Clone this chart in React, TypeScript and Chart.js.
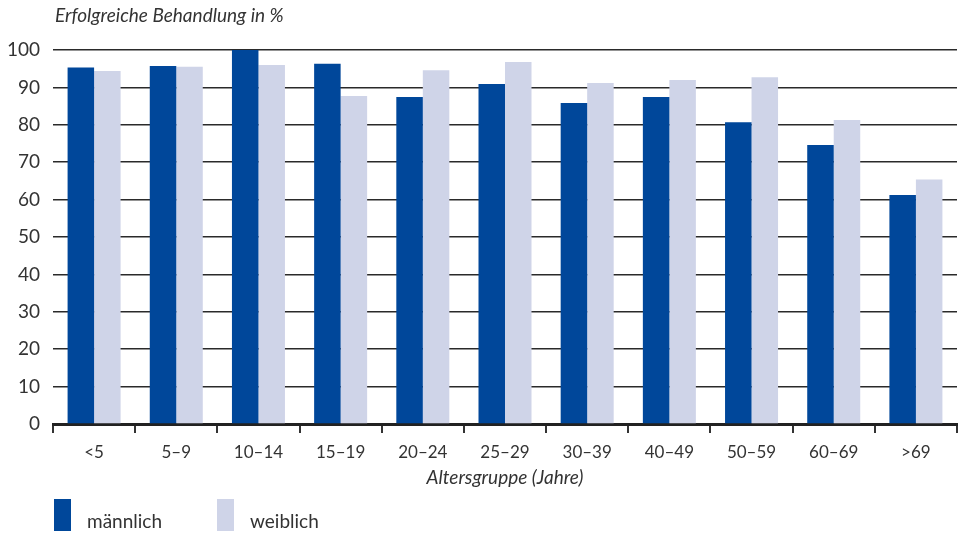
import React, { useEffect, useRef } from "react";
import { Chart, registerables } from "chart.js";

Chart.register(...registerables);

const categories = ["<5", "5–9", "10–14", "15–19", "20–24", "25–29", "30–39", "40–49", "50–59", "60–69", ">69"];
const maleValues = [95.3, 95.7, 100, 96.3, 87.4, 90.9, 85.8, 87.4, 80.7, 74.6, 61.2];
const femaleValues = [94.4, 95.5, 96.0, 87.7, 94.6, 96.8, 91.2, 92.0, 92.7, 81.3, 65.4];
const seriesLabels = ["männlich", "weiblich"];
const yTicks = [0, 10, 20, 30, 40, 50, 60, 70, 80, 90, 100];
const chartTitle = "Erfolgreiche Behandlung in %";
const xTitle = "Altersgruppe (Jahre)";

const MALE = "#00479A";
const FEMALE = "#CFD4E8";
const TEXT = "#333333";
const FONT = "Lato, 'Open Sans', sans-serif";

const decorPlugin = {
  id: "decor",
  afterDraw(chart: any) {
    const { ctx, chartArea } = chart;
    ctx.save();
    ctx.fillStyle = TEXT;
    ctx.textBaseline = "middle";
    ctx.font = `italic 19px ${FONT}`;
    ctx.textAlign = "left";
    ctx.fillText(chartTitle, chartArea.left + 2, 16);
    ctx.textAlign = "center";
    ctx.fillText(xTitle, (chartArea.left + chartArea.right) / 2, 478);
    // legend
    const items = chart.data.datasets.map((d: any) => ({ label: d.label, color: d.backgroundColor }));
    const xs = [54, 217];
    ctx.font = `19px ${FONT}`;
    ctx.textAlign = "left";
    items.forEach((it: any, i: number) => {
      ctx.fillStyle = it.color;
      ctx.fillRect(xs[i], 499, 17, 32);
      ctx.fillStyle = TEXT;
      ctx.fillText(it.label, xs[i] + 33, 522);
    });
    ctx.restore();
  },
};

export default function App() {
  const ref = useRef<HTMLCanvasElement>(null);
  useEffect(() => {
    if (!ref.current) return;
    const chart = new Chart(ref.current, {
      type: "bar",
      data: {
        labels: categories,
        datasets: [
          { label: seriesLabels[0], data: maleValues, backgroundColor: MALE, borderWidth: 0 },
          { label: seriesLabels[1], data: femaleValues, backgroundColor: FEMALE, borderWidth: 0 },
        ],
      },
      options: {
        responsive: false,
        animation: false,
        layout: { padding: { top: 50, right: 1, left: 0, bottom: 0 } },
        datasets: { bar: { barPercentage: 1, categoryPercentage: 0.645 } },
        plugins: { legend: { display: false }, title: { display: false }, tooltip: { enabled: false } },
        scales: {
          x: {
            grid: { display: true, drawOnChartArea: false, drawTicks: true, tickLength: 9, color: "#333", lineWidth: 2, offset: true },
            border: { display: true, color: "#222", width: 3 },
            ticks: { color: TEXT, font: { family: FONT, size: 17 }, padding: 9, maxRotation: 0 },
            afterFit(scale: any) {
              scale.height = 110;
            },
          },
          y: {
            min: 0,
            max: 100,
            afterBuildTicks(scale: any) {
              scale.ticks = yTicks.map((v) => ({ value: v }));
            },
            grid: { color: "#2a2a2a", lineWidth: 1.6, drawTicks: false },
            border: { display: false },
            ticks: { color: TEXT, font: { family: FONT, size: 19 }, padding: 13 },
            afterFit(scale: any) {
              scale.width = 53;
            },
          },
        },
      },
      plugins: [decorPlugin],
    });
    return () => chart.destroy();
  }, []);
  return (
    <div style={{ position: "absolute", left: 0, top: 0, width: 958, height: 534 }}>
      <canvas ref={ref} width={958} height={534} style={{ display: "block" }} />
    </div>
  );
}
